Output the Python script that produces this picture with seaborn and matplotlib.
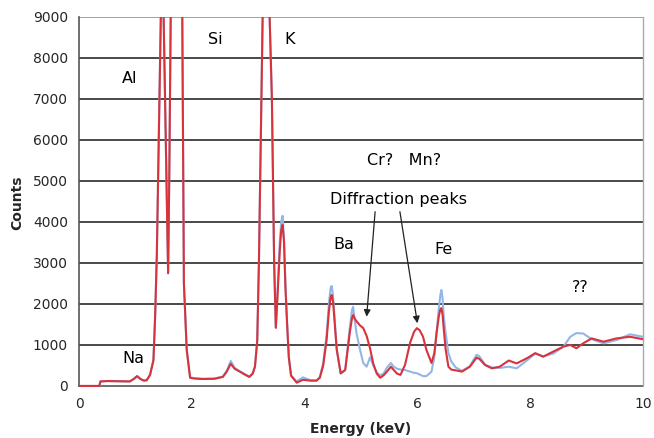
import matplotlib
matplotlib.use("Agg")
import matplotlib.pyplot as plt
import seaborn as sns
import pandas as pd

# Energy grid (keV)
energy = [0.00, 0.36, 0.38, 0.50, 0.70, 0.90, 0.97, 1.03, 1.09, 1.15, 1.20, 1.26,
          1.32, 1.35, 1.38, 1.475, 1.58, 1.60, 1.63, 1.73, 1.83, 1.86, 1.91, 1.97,
          2.05, 2.20, 2.40, 2.55, 2.62, 2.69, 2.76, 2.85, 2.95, 3.02, 3.08, 3.12,
          3.16, 3.19, 3.30, 3.42, 3.46, 3.49, 3.52, 3.56, 3.585, 3.61, 3.635, 3.66,
          3.69, 3.72, 3.76, 3.86, 3.97, 4.10, 4.21, 4.27, 4.33, 4.39, 4.43, 4.46,
          4.48, 4.505, 4.53, 4.57, 4.64, 4.72, 4.80, 4.84, 4.86, 4.89, 4.92, 4.98,
          5.04, 5.10, 5.16, 5.22, 5.28, 5.34, 5.40, 5.46, 5.53, 5.58, 5.64, 5.70,
          5.78, 5.87, 5.94, 5.99, 6.04, 6.10, 6.16, 6.25, 6.30, 6.34, 6.38, 6.405,
          6.425, 6.445, 6.47, 6.50, 6.55, 6.60, 6.68, 6.79, 6.93, 7.00, 7.05, 7.10,
          7.20, 7.32, 7.46, 7.62, 7.76, 7.94, 8.09, 8.23, 8.41, 8.59, 8.71, 8.82,
          8.94, 9.09, 9.30, 9.53, 9.77, 10.00]

counts_red = [0, 0, 110, 120, 115, 110, 170, 240, 170, 130, 140, 270,
              630, 1700, 3200, 11000, 2750, 5000, 9600, 30000, 9300, 2500, 880, 200,
              180, 170, 175, 220, 350, 540, 420, 350, 270, 220, 300, 470,
              1100, 3000, 13000, 7000, 3000, 1420, 2200, 3300, 3800, 3930, 3500, 2400,
              1500, 700, 250, 80, 150, 130, 130, 200, 500, 1120, 1800, 2150,
              2220, 2050, 1600, 880, 310, 390, 1290, 1650, 1730, 1640, 1580, 1480,
              1410, 1220, 920, 530, 300, 200, 260, 350, 470, 390, 300, 270,
              510, 1050, 1320, 1410, 1360, 1200, 880, 560, 800, 1290, 1700, 1860,
              1900, 1750, 1350, 900, 470, 400, 380, 350, 470, 600, 690, 660,
              510, 430, 470, 620, 550, 675, 800, 715, 840, 960, 1000, 920,
              1040, 1160, 1080, 1160, 1200, 1140]

counts_blue = [0, 0, 110, 120, 115, 110, 170, 240, 170, 130, 140, 270,
               630, 1700, 3200, 11000, 2750, 5000, 9600, 30000, 9300, 2500, 880, 210,
               190, 175, 180, 230, 370, 610, 440, 360, 280, 230, 310, 480,
               1100, 3000, 13000, 7000, 3000, 1420, 2300, 3500, 4000, 4150, 3600, 2500,
               1550, 700, 260, 110, 210, 140, 130, 220, 560, 1250, 2000, 2380,
               2440, 2200, 1700, 900, 300, 390, 1400, 1850, 1930, 1600, 1290, 900,
               560, 470, 700, 500, 330, 260, 300, 450, 560, 470, 420, 400,
               390, 350, 320, 310, 280, 240, 240, 350, 700, 1300, 1900, 2200,
               2340, 2150, 1650, 1300, 800, 600, 450, 370, 480, 650, 760, 720,
               520, 450, 440, 470, 430, 620, 790, 720, 790, 960, 1200, 1290,
               1280, 1140, 1040, 1120, 1260, 1200]

series_names = ["blue", "red"]
y_ticks = [0, 1000, 2000, 3000, 4000, 5000, 6000, 7000, 8000, 9000]
x_ticks = [0, 2, 4, 6, 8, 10]

labels = ["Al", "Si", "K", "Na", "Ba", "Fe", "Cr?   Mn?", "Diffraction peaks", "??"]
label_x = [0.89, 2.41, 3.74, 0.96, 4.70, 6.47, 5.76, 5.66, 8.88]
label_y = [7490, 8440, 8440, 680, 3460, 3320, 5510, 4560, 2410]

arrow_start = [(5.25, 4250), (5.69, 4250)]
arrow_end = [(5.10, 1690), (6.00, 1530)]

df = pd.DataFrame({
    "Energy": energy * 2,
    "Counts": counts_blue + counts_red,
    "series": ["blue"] * len(energy) + ["red"] * len(energy),
})

sns.set_style("white")
plt.rcParams["font.family"] = ["DejaVu Sans"]

fig = plt.figure(figsize=(6.54, 4.38), dpi=100)
ax = fig.add_axes([79 / 654, 50.4 / 438, (643 - 79) / 654, 370.6 / 438])

for yv in y_ticks[1:]:
    ax.axhline(yv, color="#3a3a3a" if yv < 9000 else "#9a9a9a", lw=1.3, zorder=0)

sns.lineplot(data=df, x="Energy", y="Counts", hue="series",
             palette={"blue": "#92b6e6", "red": "#d8333b"},
             hue_order=series_names, lw=1.5, legend=False, ax=ax,
             estimator=None, sort=False, zorder=3)

ax.set_xlim(0, 10)
ax.set_ylim(-40, 9000)
ax.set_xticks(x_ticks)
ax.set_yticks(y_ticks)
ax.tick_params(axis="both", labelsize=10, length=4, width=1, color="#555555",
               direction="out", pad=4)
ax.set_xlabel("Energy (keV)", fontsize=10, fontweight="bold", labelpad=8)
ax.set_ylabel("Counts", fontsize=10, fontweight="bold", labelpad=6)

for sp in ["left", "bottom"]:
    ax.spines[sp].set_color("#555555")
    ax.spines[sp].set_linewidth(1.2)
    ax.spines[sp].set_zorder(1)
ax.spines["bottom"].set_position(("data", 0))
ax.spines["left"].set_bounds(0, 9000)
ax.spines["right"].set_color("#aaaaaa")
ax.spines["right"].set_linewidth(1.0)
ax.spines["right"].set_bounds(0, 9000)
ax.spines["top"].set_visible(False)

for t, xv, yv in zip(labels, label_x, label_y):
    ax.text(xv, yv, t, fontsize=11.5, ha="center", va="center", color="black")

for s, e in zip(arrow_start, arrow_end):
    ax.annotate("", xy=e, xytext=s,
                arrowprops=dict(arrowstyle="-|>", color="#222222", lw=0.9,
                                mutation_scale=10, shrinkA=0, shrinkB=0))

fig.savefig("out.png", dpi=100)
